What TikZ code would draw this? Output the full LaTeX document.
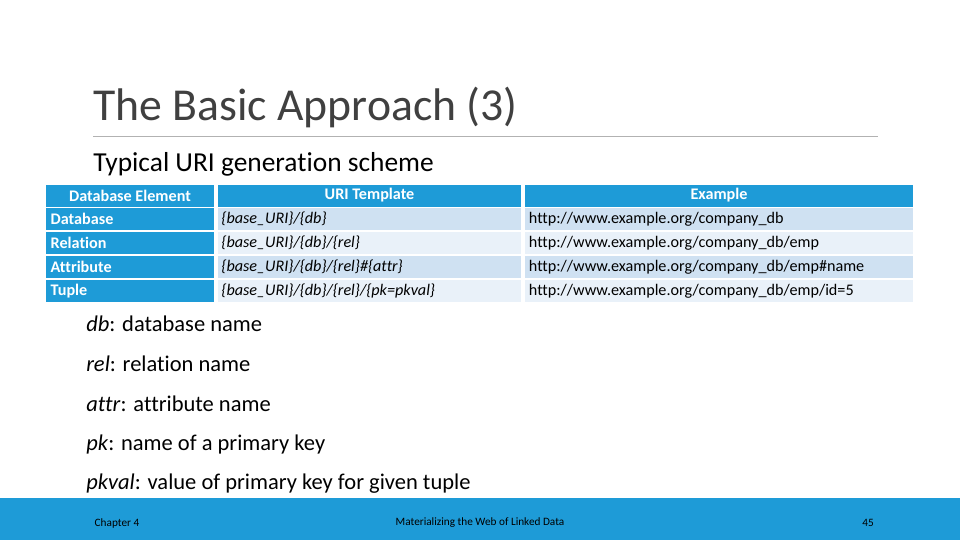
\documentclass[tikz,border=0pt]{standalone}
\usepackage{fontspec}
\setmainfont[Ligatures=NoCommon]{Carlito}
\usepackage{tikz}
\usetikzlibrary{positioning}
\definecolor{slideblue}{HTML}{1E9BD7}
\definecolor{rowdark}{HTML}{CFE1F2}
\definecolor{rowlight}{HTML}{E9F1F9}
\definecolor{titlegray}{HTML}{404040}

\begin{document}
\begin{tikzpicture}[x=0.025cm,y=-0.025cm,
  head/.style={rectangle,fill=slideblue,text=white,font=\fontsize{11.5}{13}\selectfont\bfseries,minimum height=0.55cm,inner sep=0pt},
  key/.style={rectangle,fill=slideblue,text=white,font=\fontsize{11.5}{13}\selectfont\bfseries,minimum height=0.55cm,minimum width=4.2cm,text width=4.1cm,inner sep=0pt,align=left},
  cell/.style={rectangle,fill=#1,font=\fontsize{11.5}{13}\selectfont,minimum height=0.55cm,inner sep=0pt,align=left},
  note/.style={anchor=west,font=\fontsize{16}{18}\selectfont,inner sep=0pt}]

    \useasboundingbox[fill=white] (0,0) rectangle (960,540);

    % title
    \node[anchor=west,inner sep=0pt,text=titlegray,font=\fontsize{32.5}{36}\selectfont] (title) at (93,107) {The Basic Approach (3)};
    \draw[gray!60,line width=0.6pt] (93,136) -- (878,136);
    \node[anchor=west,inner sep=0pt,font=\fontsize{19.5}{22}\selectfont] (scheme) at (93,164) {Typical URI generation scheme};

    % header row
    \node[head,minimum width=4.2cm] (h1) at (130,195.5) {Database Element};
    \node[head,minimum width=7.575cm] (h2) at (369.5,195.5) {URI Template};
    \node[head,minimum width=9.7cm] (h3) at (719,195.5) {Example};

    % body rows
    \node[key] (k1) at (130,219) {\,Database};
    \node[key] (k2) at (130,243) {\,Relation};
    \node[key] (k3) at (130,267) {\,Attribute};
    \node[key] (k4) at (130,291) {\,Tuple};

    \node[cell=rowdark,minimum width=7.575cm,text width=7.4cm] (t1) at (369.5,219) {\itshape\{base\_URI\}/\{db\}};
    \node[cell=rowlight,minimum width=7.575cm,text width=7.4cm] (t2) at (369.5,243) {\itshape\{base\_URI\}/\{db\}/\{rel\}};
    \node[cell=rowdark,minimum width=7.575cm,text width=7.4cm] (t3) at (369.5,267) {\itshape\{base\_URI\}/\{db\}/\{rel\}\#\{attr\}};
    \node[cell=rowlight,minimum width=7.575cm,text width=7.4cm] (t4) at (369.5,291) {\itshape\{base\_URI\}/\{db\}/\{rel\}/\{pk=pkval\}};

    \node[cell=rowdark,minimum width=9.7cm,text width=9.5cm] (e1) at (719,219) {http://www.example.org/company\_db};
    \node[cell=rowlight,minimum width=9.7cm,text width=9.5cm] (e2) at (719,243) {http://www.example.org/company\_db/emp};
    \node[cell=rowdark,minimum width=9.7cm,text width=9.5cm] (e3) at (719,267) {http://www.example.org/company\_db/emp\#name};
    \node[cell=rowlight,minimum width=9.7cm,text width=9.5cm] (e4) at (719,291) {http://www.example.org/company\_db/emp/id=5};

    % notes
    \node[note] (n1) at (86,324) {\textit{db}: database name};
    \node[note] (n2) at (86,364) {\textit{rel}: relation name};
    \node[note] (n3) at (86,404) {\textit{attr}: attribute name};
    \node[note] (n4) at (86,444) {\textit{pk}: name of a primary key};
    \node[note] (n5) at (86,484) {\textit{pkval}: value of primary key for given tuple};

    % footer
    \fill[slideblue] (0,498) rectangle (960,540);
    \node[inner sep=0pt,font=\fontsize{8}{9}\selectfont] (chap) at (117,523) {Chapter 4};
    \node[inner sep=0pt,font=\fontsize{8}{9}\selectfont] (book) at (480,523) {Materializing the Web of Linked Data};
    \node[inner sep=0pt,font=\fontsize{8}{9}\selectfont] (page) at (868,523) {45};

\end{tikzpicture}
\end{document}
